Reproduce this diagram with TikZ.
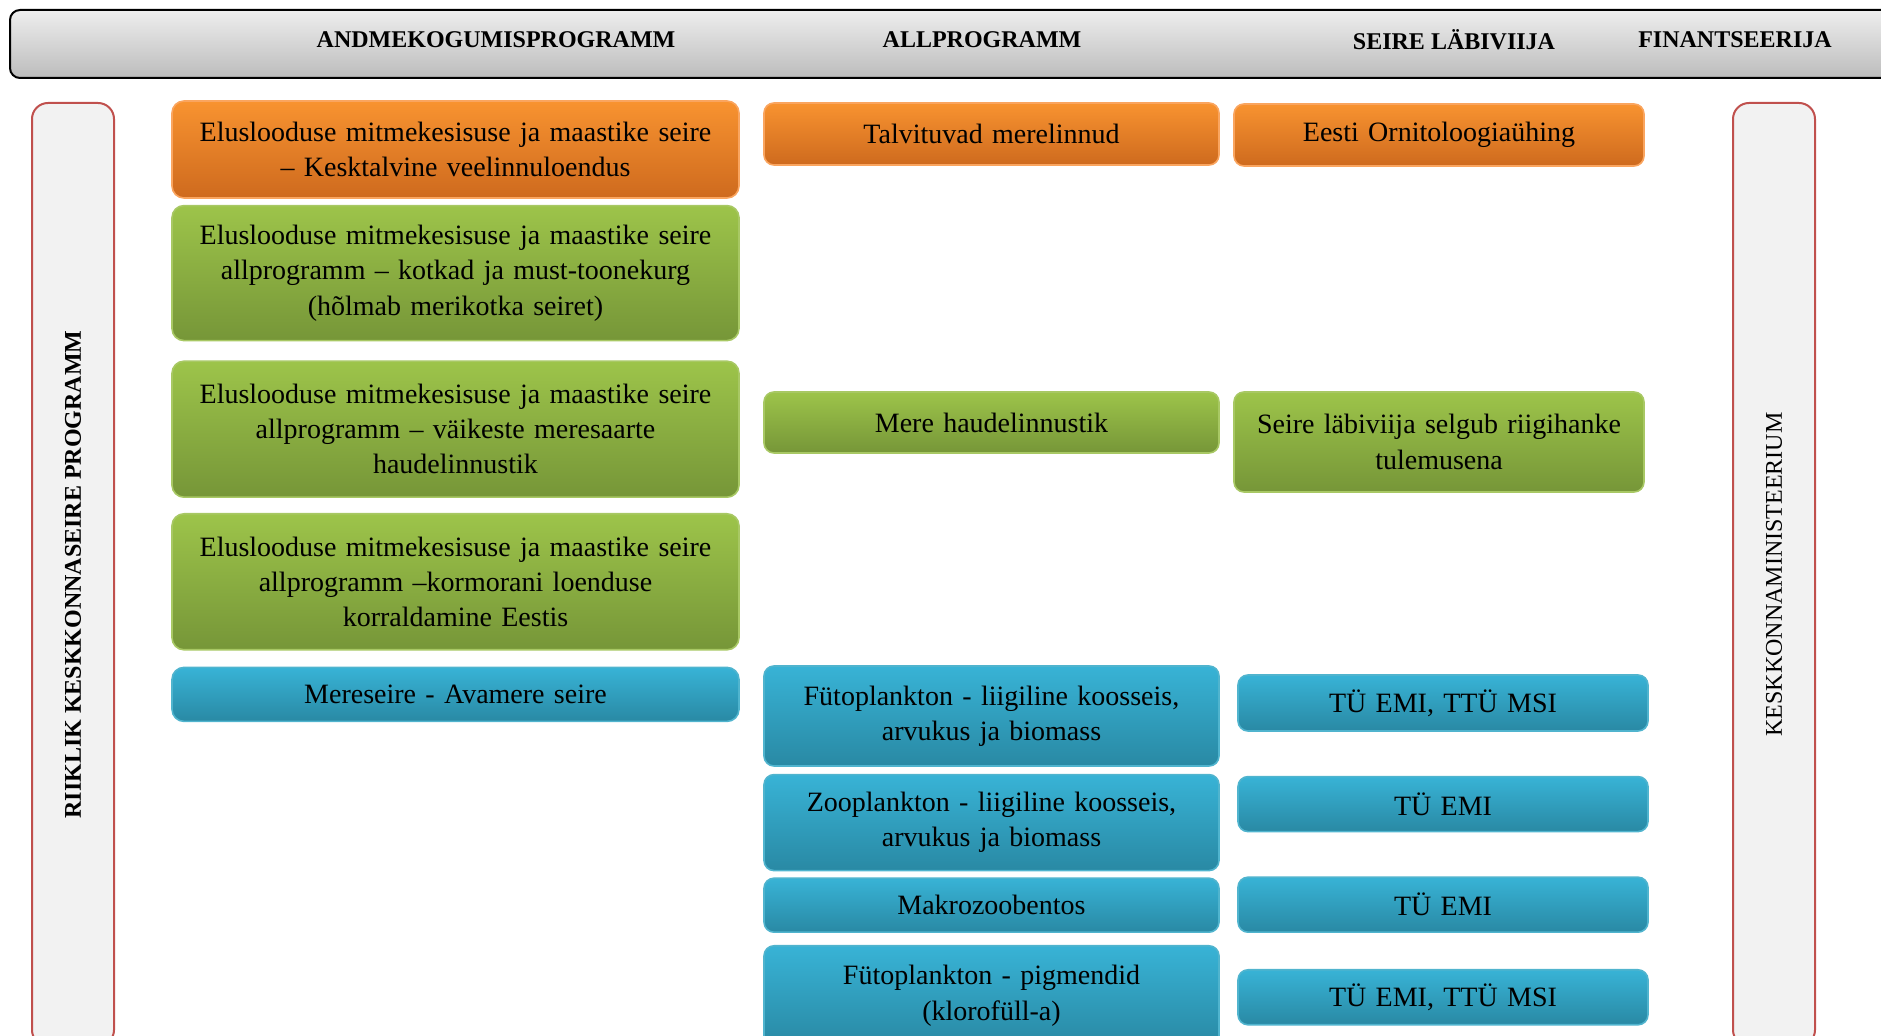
\documentclass[tikz,border=0pt]{standalone}
\usepackage{fontspec}
\setmainfont{Liberation Serif}
\usetikzlibrary{positioning,shapes}

\definecolor{orTop}{RGB}{248,147,48}
\definecolor{orBot}{RGB}{206,106,30}
\definecolor{orLine}{RGB}{250,165,95}
\definecolor{grTop}{RGB}{157,196,74}
\definecolor{grBot}{RGB}{118,150,56}
\definecolor{grLine}{RGB}{168,200,100}
\definecolor{blTop}{RGB}{56,179,214}
\definecolor{blBot}{RGB}{41,137,164}
\definecolor{blLine}{RGB}{80,180,206}
\definecolor{hdTop}{RGB}{238,238,238}
\definecolor{hdBot}{RGB}{188,188,188}
\definecolor{vLine}{RGB}{192,80,77}
\definecolor{vFill}{RGB}{242,242,242}

\tikzstyle{pbox}=[rectangle, rounded corners=6pt, inner sep=3pt, line width=0.8pt,
                  text centered, font=\fontsize{14}{17.6}\selectfont]
\tikzstyle{obox}=[pbox, draw=orLine, top color=orTop, bottom color=orBot]
\tikzstyle{gbox}=[pbox, draw=grLine, top color=grTop, bottom color=grBot]
\tikzstyle{bbox}=[pbox, draw=blLine, top color=blTop, bottom color=blBot]
\tikzstyle{cola}=[text width=277.5pt]
\tikzstyle{colb}=[text width=221.5pt, rounded corners=5pt]
\tikzstyle{colc}=[text width=199pt, rounded corners=5pt]
\tikzstyle{vbox}=[rectangle, rounded corners=8pt, draw=vLine, fill=vFill, line width=1pt,
                  minimum width=471.5pt, minimum height=41pt, rotate=90,
                  font=\fontsize{12}{14}\selectfont]
\tikzstyle{hbar}=[rectangle, rounded corners=5pt, draw=black, line width=1pt,
                  top color=hdTop, bottom color=hdBot, minimum width=945pt, minimum height=34pt]
\tikzstyle{htext}=[font=\bfseries\fontsize{12}{14}\selectfont]

\begin{document}
\begin{tikzpicture}[x=1pt,y=1pt]
\useasboundingbox (0,0) rectangle (940.5,-518);

% header
\node (BAR) [hbar] at (477.5,-22) {};
\node (HPROG) [htext] at (248,-20) {ANDMEKOGUMISPROGRAMM};
\node (HSUB) [htext] at (491,-20) {ALLPROGRAMM};
\node (HDOER) [htext] at (727,-20) {SEIRE LÄBIVIIJA};
\node (HFIN) [htext] at (867.5,-20) {FINANTSEERIJA};

% side boxes
\node (RKP) [vbox, font=\bfseries\fontsize{12}{14}\selectfont] at (36.5,-287.25) {RIIKLIK KESKKONNASEIRE PROGRAMM};
\node (KKM) [vbox] at (887,-287.25) {KESKKONNAMINISTEERIUM};

% data collection programmes
\node (ELUKT) [obox, cola, minimum height=48.5pt] at (227.75,-74.75)
  {Eluslooduse mitmekesisuse ja maastike seire\\– Kesktalvine veelinnuloendus};
\node (ELUKO) [gbox, cola, minimum height=67.5pt, below=3pt of ELUKT]
  {Eluslooduse mitmekesisuse ja maastike seire\\allprogramm – kotkad ja must-toonekurg\\(hõlmab merikotka seiret)};
\node (ELUVS) [gbox, cola, minimum height=68pt, below=9.5pt of ELUKO]
  {Eluslooduse mitmekesisuse ja maastike seire\\allprogramm – väikeste meresaarte\\haudelinnustik};
\node (ELUKR) [gbox, cola, minimum height=68pt, below=7.5pt of ELUVS]
  {Eluslooduse mitmekesisuse ja maastike seire\\allprogramm –kormorani loenduse\\korraldamine Eestis};
\node (MERE) [bbox, cola, minimum height=27pt, below=8pt of ELUKR]
  {Mereseire - Avamere seire};

% subprogrammes
\node (TALV) [obox, colb, minimum height=31pt] at (495.75,-67) {Talvituvad merelinnud};
\node (HAUD) [gbox, colb, minimum height=30.5pt] at (495.75,-211.25) {Mere haudelinnustik};
\node (FYTO) [bbox, colb, minimum height=50pt] at (495.75,-358)
  {Fütoplankton - liigiline koosseis,\\arvukus ja biomass};
\node (ZOO) [bbox, colb, minimum height=48pt, below=3.5pt of FYTO]
  {Zooplankton - liigiline koosseis,\\arvukus ja biomass};
\node (MAKRO) [bbox, colb, minimum height=27pt, below=3pt of ZOO] {Makrozoobentos};
\node (PIGM) [bbox, colb, minimum height=50pt, below=6pt of MAKRO]
  {Fütoplankton - pigmendid\\(klorofüll-a)};

% monitoring performers
\node (EOU) [obox, colc, minimum height=31pt] at (719.5,-67.5) {Eesti Ornitoloogiaühing};
\node (HANGE) [gbox, colc, minimum height=50pt] at (719.5,-221)
  {Seire läbiviija selgub riigihanke\\tulemusena};
\node (EMIA) [bbox, colc, minimum height=28pt] at (721.5,-351.5) {TÜ EMI, TTÜ MSI};
\node (EMIB) [bbox, colc, minimum height=27.5pt, below=22pt of EMIA] {TÜ EMI};
\node (EMIC) [bbox, colc, minimum height=27.5pt, below=22pt of EMIB] {TÜ EMI};
\node (EMID) [bbox, colc, minimum height=27.5pt, below=18pt of EMIC] {TÜ EMI, TTÜ MSI};

\end{tikzpicture}
\end{document}
